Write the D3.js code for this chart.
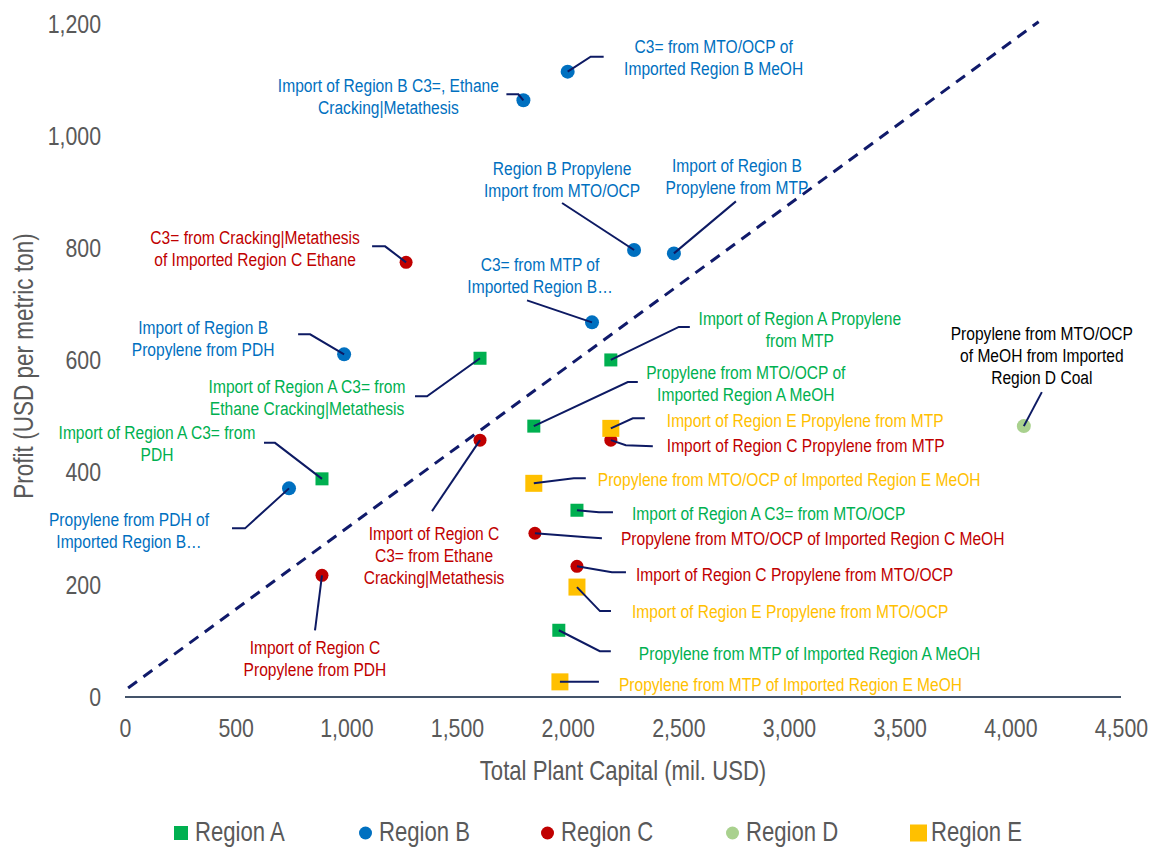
<!DOCTYPE html>
<html>
<head>
<meta charset="utf-8">
<script src="https://cdn.jsdelivr.net/npm/d3@7"></script>
<style>
  body { margin: 0; background: #fff; }
  text { font-family: "Liberation Sans Narrow", "Arial Narrow", "Liberation Sans", Arial, sans-serif; }
</style>
</head>
<body>
<svg id="chart" width="1151" height="848"></svg>
<script>
// Profit vs. total plant capital for propylene routes, by region
var regionNames = ['Region A', 'Region B', 'Region C', 'Region D', 'Region E'];

var regionACapital = [1604, 2195, 1847, 890, 2042, 1960];
var regionAProfit  = [604, 601, 483, 389, 333, 119];
var regionALabels  = [
    'Import of Region A C3= from\nEthane Cracking|Metathesis',
    'Import of Region A Propylene\nfrom MTP',
    'Propylene from MTO/OCP of\nImported Region A MeOH',
    'Import of Region A C3= from\nPDH',
    'Import of Region A C3= from MTO/OCP',
    'Propylene from MTP of Imported Region A MeOH'
];

var regionBCapital = [2000, 1800, 2300, 2480, 2110, 990, 741];
var regionBProfit  = [1115, 1064, 797, 791, 668, 611, 372];
var regionBLabels  = [
    'C3= from MTO/OCP of\nImported Region B MeOH',
    'Import of Region B C3=, Ethane\nCracking|Metathesis',
    'Region B Propylene\nImport from MTO/OCP',
    'Import of Region B\nPropylene from MTP',
    'C3= from MTP of\nImported Region B\u2026',
    'Import of Region B\nPropylene from PDH',
    'Propylene from PDH of\nImported Region B\u2026'
];

var regionCCapital = [1270, 1604, 2195, 1852, 2042, 890];
var regionCProfit  = [775, 458, 458, 292, 233, 217];
var regionCLabels  = [
    'C3= from Cracking|Metathesis\nof Imported Region C Ethane',
    'Import of Region C\nC3= from Ethane\nCracking|Metathesis',
    'Import of Region C Propylene from MTP',
    'Propylene from MTO/OCP of Imported Region C MeOH',
    'Import of Region C Propylene from MTO/OCP',
    'Import of Region C\nPropylene from PDH'
];

var regionDCapital = [4061];
var regionDProfit  = [483];
var regionDLabels  = ['Propylene from MTO/OCP\nof MeOH from Imported\nRegion D Coal'];

var regionECapital = [2195, 1847, 2042, 1965];
var regionEProfit  = [479, 381, 196, 27];
var regionELabels  = [
    'Import of Region E Propylene from MTP',
    'Propylene from MTO/OCP of Imported Region E MeOH',
    'Import of Region E Propylene from MTO/OCP',
    'Propylene from MTP of Imported Region E MeOH'
];

// dashed reference line (two ends)
var refCapital = [14, 4128];
var refProfit  = [16, 1204];

var xTicks = [0, 500, 1000, 1500, 2000, 2500, 3000, 3500, 4000, 4500];
var yTicks = [0, 200, 400, 600, 800, 1000, 1200];

// ---- styles / layout ----
var series = [
    { name: regionNames[0], cap: regionACapital, prof: regionAProfit, labels: regionALabels, key: 'A',
      color: '#00B050', text: '#00B050', shape: 'square', size: 13 },
    { name: regionNames[1], cap: regionBCapital, prof: regionBProfit, labels: regionBLabels, key: 'B',
      color: '#0070C0', text: '#0070C0', shape: 'circle', size: 14 },
    { name: regionNames[2], cap: regionCCapital, prof: regionCProfit, labels: regionCLabels, key: 'C',
      color: '#C00000', text: '#C00000', shape: 'circle', size: 13 },
    { name: regionNames[3], cap: regionDCapital, prof: regionDProfit, labels: regionDLabels, key: 'D',
      color: '#A9D18E', text: '#000000', shape: 'circle', size: 14 },
    { name: regionNames[4], cap: regionECapital, prof: regionEProfit, labels: regionELabels, key: 'E',
      color: '#FFC000', text: '#FFC000', shape: 'square', size: 17 }
];

// label placement: offsets in px from the marker; leader polyline offsets too
var labelLayout = {
    A0: { dx: -173, dy: 28, anchor: 'middle', leader: [[-65, 38], [-53, 38], [0, 0]] },
    A1: { dx: 189, dy: -42, anchor: 'middle', leader: [[79, -33], [68, -33], [0, 0]] },
    A2: { dx: 212, dy: -54, anchor: 'middle', leader: [[104, -44], [94, -44], [0, 0]] },
    A3: { dx: -165, dy: -46, anchor: 'middle', leader: [[-58, -36], [-47, -36], [0, 0]] },
    A4: { dx: 55, dy: 3, anchor: 'start', leader: [[0, 0], [22, 2], [36, 2]] },
    A5: { dx: 80, dy: 23, anchor: 'start', leader: [[0, 0], [41, 21], [52, 21]] },
    B0: { dx: 146, dy: -25, anchor: 'middle', leader: [[0, 0], [23, -15], [36, -15]] },
    B1: { dx: -135, dy: -15, anchor: 'middle', leader: [[-17, -6], [-5, -6], [0, 0]] },
    B2: { dx: -72, dy: -82, anchor: 'middle', leader: [[-72, -47], [0, 0]] },
    B3: { dx: 63, dy: -88, anchor: 'middle', leader: [[62, -52], [0, 0]] },
    B4: { dx: -52, dy: -58, anchor: 'middle', leader: [[-65, -22], [0, 0]] },
    B5: { dx: -141, dy: -27, anchor: 'middle', leader: [[-46, -20], [-34, -20], [0, 0]] },
    B6: { dx: -160, dy: 31, anchor: 'middle', leader: [[-57, 40], [-44, 40], [0, 0]] },
    C0: { dx: -151, dy: -25, anchor: 'middle', leader: [[-34, -16], [-21, -16], [0, 0]] },
    C1: { dx: -46, dy: 93, anchor: 'middle', leader: [[-48, 71], [0, 0]] },
    C2: { dx: 56, dy: 5, anchor: 'start', leader: [[0, 0], [15, 5], [42, 6]] },
    C3: { dx: 86, dy: 5, anchor: 'start', leader: [[0, 0], [52, 4], [67, 5]] },
    C4: { dx: 59, dy: 8, anchor: 'start', leader: [[0, 0], [35, 6], [49, 6]] },
    C5: { dx: -7, dy: 72, anchor: 'middle', leader: [[0, 0], [-7, 55]] },
    D0: { dx: 18, dy: -93, anchor: 'middle', leader: [[18, -34], [0, 0]] },
    E0: { dx: 56, dy: -8, anchor: 'start', leader: [[0, 0], [22, -10], [34, -10]] },
    E1: { dx: 64, dy: -4, anchor: 'start', leader: [[0, 0], [40, -5], [52, -5]] },
    E2: { dx: 55, dy: 24, anchor: 'start', leader: [[0, 0], [23, 24], [34, 24]] },
    E3: { dx: 59, dy: 2, anchor: 'start', leader: [[0, 0], [39, 0]] }
};

// no narrow font installed, so squeeze the regular one to look like Arial Narrow
var narrow = 0.82;

var svg = d3.select('#chart');
var x = d3.scaleLinear().domain([0, 4500]).range([125, 1121]);
var y = d3.scaleLinear().domain([0, 1200]).range([697, 24]);

var grey = '#595959';
var leaderColor = '#0D1A63';

function addText(parent, px, py, lines, size, fill, anchor, lineH, rotate) {
    var g = parent.append('g')
        .attr('transform', 'translate(' + px + ',' + py + ')' + (rotate ? ' rotate(' + rotate + ')' : '') +
              ' scale(' + narrow + ',1)');
    var t = g.append('text').attr('text-anchor', anchor).attr('fill', fill)
        .style('font-size', size + 'px');
    lines.forEach(function (ln, k) {
        t.append('tspan').attr('x', 0).attr('y', k * lineH).attr('dy', '0.35em').text(ln);
    });
    return t;
}

// axes
var xAxis = svg.append('g').attr('transform', 'translate(0,' + y(0) + ')')
    .call(d3.axisBottom(x).tickValues(xTicks).tickFormat(d3.format(',')).tickSize(0).tickPadding(22));
xAxis.select('.domain').attr('stroke', '#44546A').attr('stroke-width', 2)
    .attr('d', 'M' + x(0) + ',0H' + x(4500));
xAxis.selectAll('text').attr('fill', grey).style('font-size', '26px')
    .attr('transform', 'scale(' + narrow + ',1)')
    .style('font-family', '"Liberation Sans Narrow","Arial Narrow","Liberation Sans",Arial,sans-serif');

var yAxis = svg.append('g').attr('transform', 'translate(' + x(0) + ',0)')
    .call(d3.axisLeft(y).tickValues(yTicks).tickFormat(d3.format(',')).tickSize(0).tickPadding(24));
yAxis.select('.domain').remove();
yAxis.selectAll('text').attr('fill', grey).style('font-size', '26px')
    .attr('x', -24 / narrow).attr('transform', 'scale(' + narrow + ',1)')
    .style('font-family', '"Liberation Sans Narrow","Arial Narrow","Liberation Sans",Arial,sans-serif');

addText(svg, 623, 771, ['Total Plant Capital (mil. USD)'], 27, grey, 'middle', 0);
addText(svg, 23, 366, ['Profit (USD per metric ton)'], 27.5, grey, 'middle', 0, -90);

// dashed reference line
svg.append('line')
    .attr('x1', x(refCapital[0])).attr('y1', y(refProfit[0]))
    .attr('x2', x(refCapital[1])).attr('y2', y(refProfit[1]))
    .attr('stroke', '#101A6A').attr('stroke-width', 3).attr('stroke-dasharray', '11,8');

function drawMarker(g, s, cx, cy) {
    if (s.shape === 'square') {
        g.append('rect').attr('x', cx - s.size / 2).attr('y', cy - s.size / 2)
            .attr('width', s.size).attr('height', s.size).attr('fill', s.color);
    } else {
        g.append('circle').attr('cx', cx).attr('cy', cy).attr('r', s.size / 2).attr('fill', s.color);
    }
}

var markers = svg.append('g');
var leaders = svg.append('g');
var labels = svg.append('g');

series.forEach(function (s) {
    s.cap.forEach(function (c, i) {
        var px = x(c), py = y(s.prof[i]);
        drawMarker(markers, s, px, py);

        var lay = labelLayout[s.key + i];
        leaders.append('path')
            .attr('d', d3.line()(lay.leader.map(function (p) { return [px + p[0], py + p[1]]; })))
            .attr('fill', 'none').attr('stroke', leaderColor).attr('stroke-width', 2);

        addText(labels, px + lay.dx, py + lay.dy, s.labels[i].split('\n'), 19, s.text, lay.anchor, 22);
    });
});

// legend
var legendMarkX = [174, 359, 541, 726, 910];
var legendTextX = [195, 379, 561, 746, 931];
var legend = svg.append('g');
series.forEach(function (s, i) {
    var ly = 832;
    var sz = s.shape === 'square' ? (s.key === 'E' ? 17 : 14) : 13;
    drawMarker(legend, { shape: s.shape, size: sz, color: s.color }, legendMarkX[i] + sz / 2, ly + 1);
    addText(legend, legendTextX[i], ly, [s.name], 27, grey, 'start', 0);
});
</script>
</body>
</html>
